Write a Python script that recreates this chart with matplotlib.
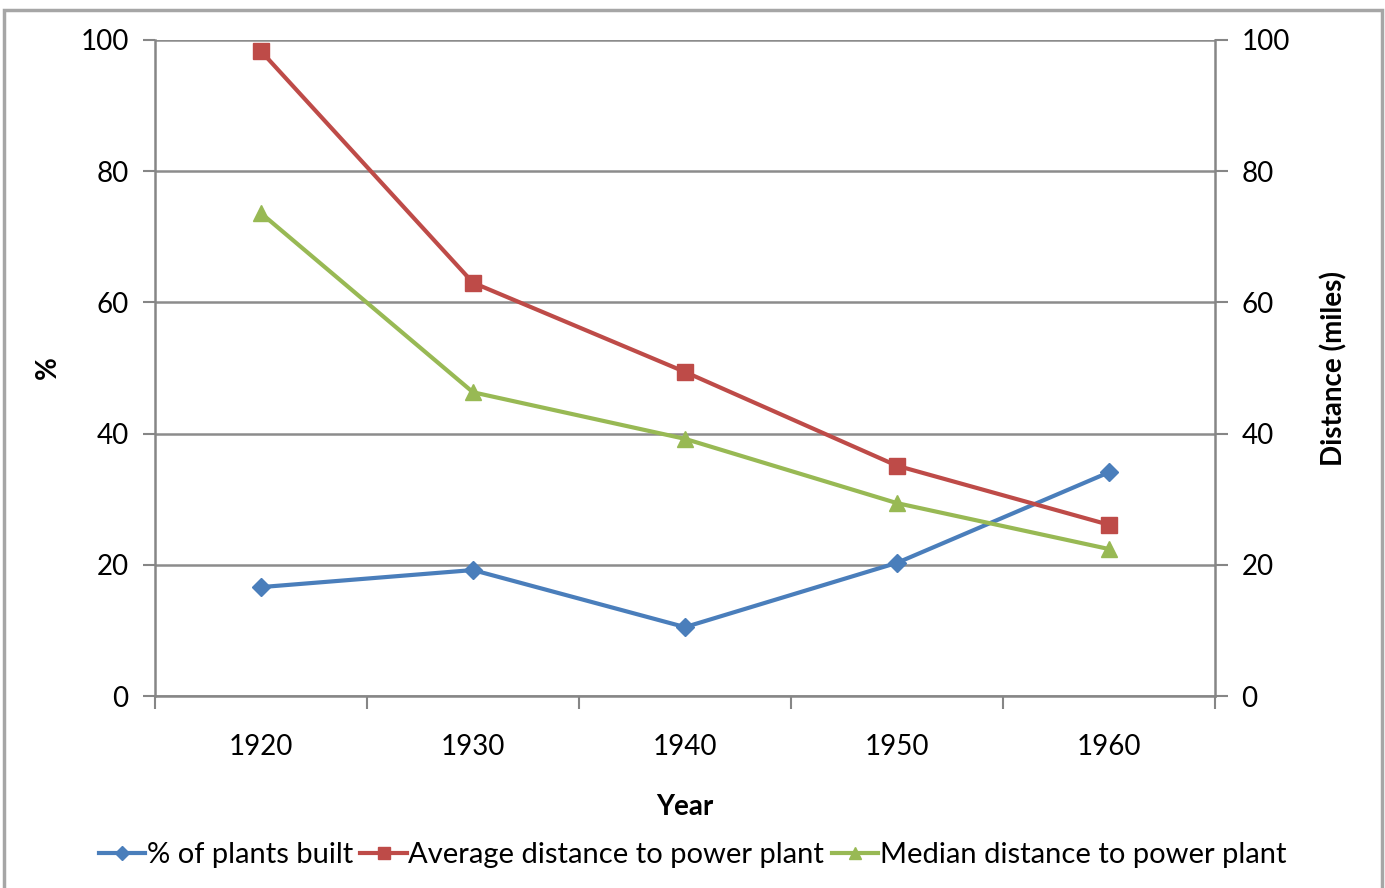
import matplotlib.pyplot as plt
from matplotlib.patches import Rectangle
import numpy as np

years = ['1920', '1930', '1940', '1950', '1960']
pct_built = [16.6, 19.2, 10.5, 20.3, 34.1]
avg_distance = [98.3, 63.0, 49.4, 35.1, 26.1]
median_distance = [73.6, 46.3, 39.2, 29.4, 22.4]

plt.rcParams['font.family'] = ['Lato', 'DejaVu Sans']

W, H = 1385, 888
fig = plt.figure(figsize=(W / 100, H / 100), dpi=100)
ax = fig.add_axes([155 / W, 1 - 696 / H, (1215 - 155) / W, (696 - 40) / H])
ax2 = ax.twinx()

# outer chart border
fig.patches.append(Rectangle((4 / W, -0.05), (1382 - 4) / W, 1.05 - 10 / H,
                             transform=fig.transFigure, fill=False,
                             edgecolor='#a6a6a6', linewidth=2.5))

x = np.arange(len(years))
l1, = ax.plot(x, pct_built, color='#4a7ebb', lw=3, marker='D', ms=9,
              label='% of plants built')
l2, = ax2.plot(x, avg_distance, color='#be4b48', lw=3, marker='s', ms=11,
               label='Average distance to power plant')
l3, = ax2.plot(x, median_distance, color='#98b954', lw=3, marker='^', ms=12,
               label='Median distance to power plant')

for a in (ax, ax2):
    a.set_ylim(0, 100)
    a.set_yticks(range(0, 101, 20))
    a.set_xlim(-0.5, len(years) - 0.5)
    for s in a.spines.values():
        s.set_visible(False)
    a.tick_params(axis='y', length=9, width=1.5, color='#868686',
                  labelsize=20, pad=10)

for a, side in ((ax, 'left'), (ax, 'bottom'), (ax2, 'right')):
    a.spines[side].set_visible(True)
    a.spines[side].set_color('#868686')
    a.spines[side].set_linewidth(1.8)

ax.grid(axis='y', color='#8c8c8c', lw=1.8)
ax.set_axisbelow(True)

# category labels centred, ticks on the boundaries
ax.set_xticks(np.arange(-0.5, len(years), 1.0))
ax.set_xticklabels([])
ax.tick_params(axis='x', length=9, width=1.5, color='#868686')
ax.set_xticks(x, minor=True)
ax.set_xticklabels(years, minor=True)
ax.tick_params(axis='x', which='minor', length=0, labelsize=20, pad=27)

ax.set_xlabel('Year', fontsize=20, fontweight='bold', labelpad=25)
ax.set_ylabel('%', fontsize=20, fontweight='bold', labelpad=14)
ax2.set_ylabel('Distance (miles)', fontsize=20, fontweight='bold', labelpad=22)

fig.legend(handles=[l1, l2, l3], loc='center', bbox_to_anchor=(0.5, 1 - 855 / H),
           ncol=3, frameon=False, fontsize=21, handlelength=1.6,
           handletextpad=0.05, columnspacing=0.25, markerscale=0.75)

fig.savefig('out.png', dpi=100)
